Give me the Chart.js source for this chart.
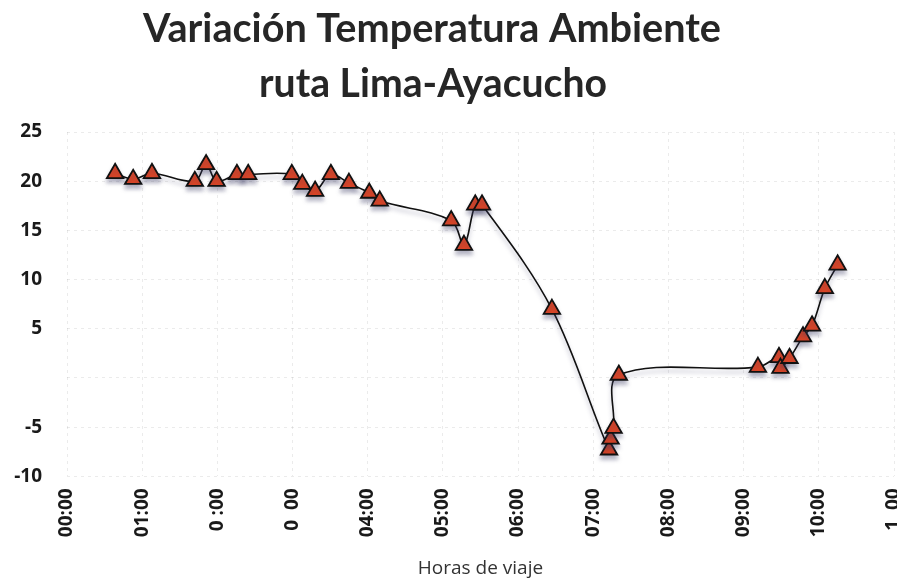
<!DOCTYPE html>
<html>
<head>
<meta charset="utf-8">
<script src="https://cdn.jsdelivr.net/npm/chart.js@4.4.0/dist/chart.umd.min.js"></script>
<style>
  html, body { margin: 0; padding: 0; background: #fff; }
  #wrap { width: 897px; height: 581px; }
</style>
</head>
<body>
<div id="wrap"><canvas id="tempChart"></canvas></div>
<script>
// horas de viaje (en horas desde 00:00) y temperatura ambiente (°C)
const hours = [0.64, 0.88, 1.13, 1.70, 1.85, 1.99, 2.26, 2.41, 2.99, 3.13, 3.30, 3.51, 3.75, 4.02, 4.16,
               5.11, 5.28, 5.43, 5.52, 6.45, 7.21, 7.23, 7.27, 7.34,
               9.19, 9.47, 9.49, 9.61, 9.79, 9.91, 10.08, 10.25];
const temps = [20.8, 20.2, 20.8, 20.0, 21.7, 20.0, 20.7, 20.7, 20.7, 19.7, 19.0, 20.7, 19.8, 18.8, 18.0,
               16.0, 13.5, 17.6, 17.6, 7.0, -7.3, -6.2, -5.1, 0.3,
               1.1, 2.1, 1.0, 2.0, 4.2, 5.3, 9.1, 11.5];
const xTickLabels = ['00:00', '01:00', '0 :00', '0  00', '04:00', '05:00', '06:00',
                     '07:00', '08:00', '09:00', '10:00', '1  00'];
const yTickLabels = {'-10': '-10', '-5': '-5', '0': '', '5': '5', '10': '10', '15': '15', '20': '20', '25': '25'};
const titleLines = ['Variación Temperatura Ambiente', 'ruta Lima-Ayacucho'];

const points = hours.map((h, i) => ({x: h, y: temps[i]}));

// sombra bajo los marcadores
const shadowPlugin = {
    id: 'markerShadow',
    beforeDatasetsDraw(chart) {
        const c = chart.ctx;
        c.save();
        c.shadowColor = 'rgba(60,60,100,0.35)';
        c.shadowBlur = 4;
        c.shadowOffsetY = 4;
    },
    afterDatasetsDraw(chart) {
        chart.ctx.restore();
    }
};

// titulo en dos lineas, algo corrido a la izquierda como en el original
const titlePlugin = {
    id: 'bigTitle',
    afterDraw(chart) {
        const c = chart.ctx;
        c.save();
        c.fillStyle = '#262626';
        c.textAlign = 'center';
        c.textBaseline = 'alphabetic';
        c.font = 'bold 40px Lato';
        c.fillText(titleLines[0], 432, 42, 578);
        c.fillText(titleLines[1], 433, 97, 348);
        c.restore();
    }
};

function InitTempChart() {
    const ctx = document.getElementById('tempChart').getContext('2d');
    new Chart(ctx, {
        type: 'line',
        data: {
            datasets: [{
                label: 'Temperatura',
                data: points,
                borderColor: '#111',
                borderWidth: 1.6,
                fill: false,
                tension: 0.35,
                pointStyle: 'triangle',
                pointRadius: 9.5,
                pointBackgroundColor: '#df4524',
                pointBorderColor: '#111',
                pointBorderWidth: 1.8,
            }],
        },
        plugins: [shadowPlugin, titlePlugin],
        options: {
            responsive: true,
            maintainAspectRatio: false,
            animation: false,
            layout: {autoPadding: false, padding: {left: 2, right: 0, top: 132, bottom: 1}},
            plugins: {
                legend: {display: false},
                tooltip: {enabled: false},
                title: {display: false},
            },
            scales: {
                x: {
                    type: 'linear',
                    min: 0,
                    max: 11,
                    afterFit: (scale) => {
                        scale.paddingLeft = 0;
                        scale.paddingRight = 3;
                    },
                    ticks: {
                        stepSize: 1,
                        autoSkip: false,
                        minRotation: 90,
                        maxRotation: 90,
                        padding: 12,
                        color: '#1a1a1a',
                        font: {family: 'Open Sans', size: 19, weight: 'bold'},
                        callback: (v) => xTickLabels[v],
                    },
                    grid: {color: 'rgba(0,0,0,0.08)', drawTicks: false},
                    border: {display: false, dash: [3, 4]},
                    title: {
                        display: true,
                        text: 'Horas de viaje',
                        color: '#333',
                        font: {family: 'Open Sans', size: 19},
                        padding: {top: 8, bottom: 0},
                    },
                },
                y: {
                    min: -10,
                    max: 25,
                    afterFit: (scale) => {
                        scale.width = 65;
                    },
                    ticks: {
                        stepSize: 5,
                        padding: 25,
                        color: '#1a1a1a',
                        font: {family: 'Open Sans', size: 19, weight: 'bold'},
                        callback: (v) => yTickLabels[String(v)],
                    },
                    grid: {color: 'rgba(0,0,0,0.08)', drawTicks: false},
                    border: {display: false, dash: [3, 4]},
                },
            },
        },
    });
}

InitTempChart();
</script>
</body>
</html>
